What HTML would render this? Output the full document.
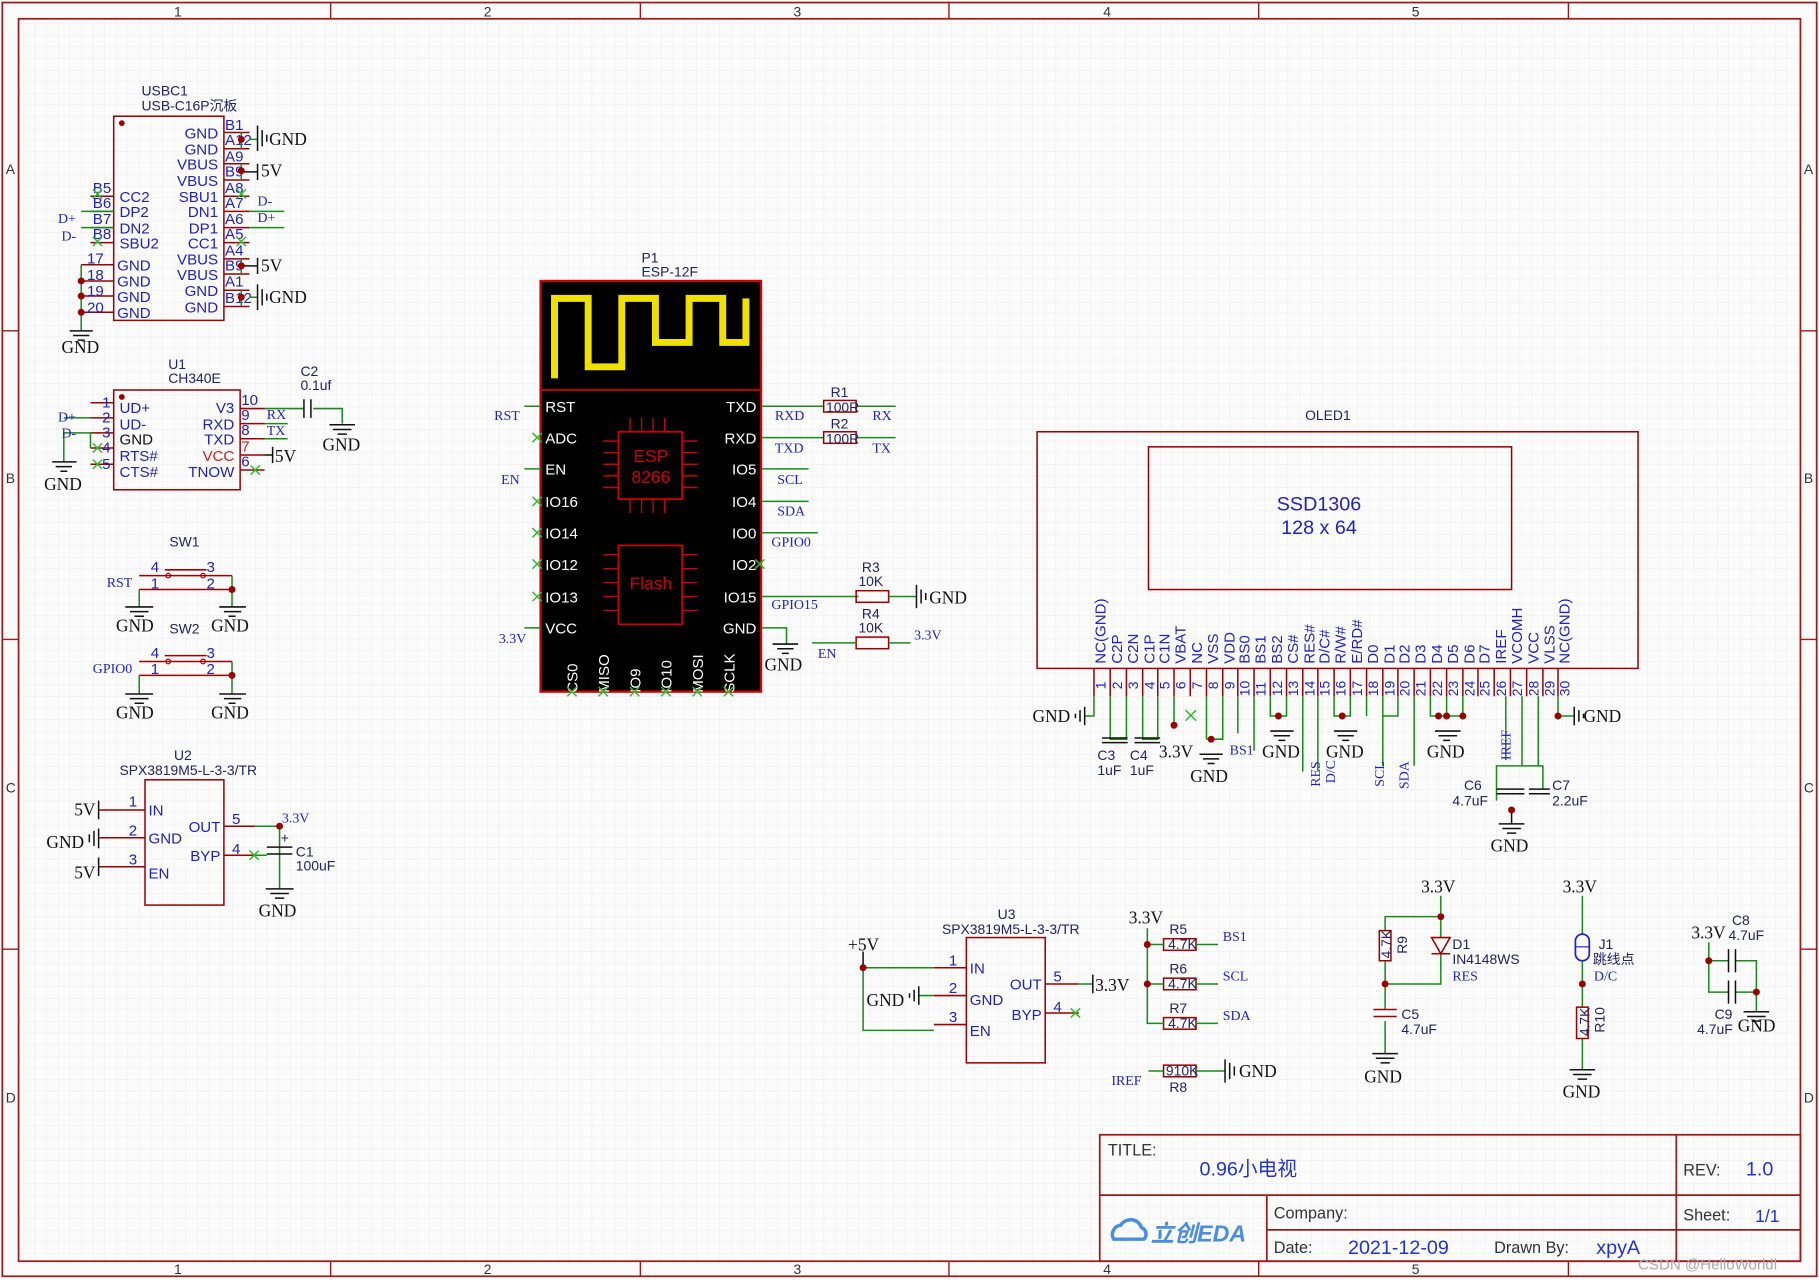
<!DOCTYPE html>
<html><head><meta charset="utf-8"><style>
html,body{margin:0;padding:0;background:#fff}
svg{display:block}
.c{font-family:"Liberation Sans","Noto Sans CJK SC",sans-serif;font-size:13px;fill:#2222bb}
.s{font-family:"Liberation Sans","Noto Sans CJK SC",sans-serif;font-size:12px;fill:#222266}
.n{font-family:"Liberation Serif","Noto Serif CJK SC",serif;font-size:12px;fill:#2222cc}
.g{font-family:"Liberation Serif",serif;font-size:15px;fill:#111}
.w{stroke:#1a8a1a;stroke-width:1.3;fill:none}
.p{stroke:#990000;stroke-width:1.3;fill:none}
.k{stroke:#111;stroke-width:1.3;fill:none}
.b{fill:#990000;stroke:none}
.r{stroke:#9a1b1b;fill:none}
.x{stroke:#33bb33;stroke-width:1.3}
</style></head><body>
<svg width="1819" height="1280" viewBox="0 0 1568 1103" xmlns="http://www.w3.org/2000/svg">
<defs>
<pattern id="gr" width="10" height="10" patternUnits="userSpaceOnUse"><path d="M10 0H0V10" stroke="#e6e6e6" stroke-width="0.6" fill="none"/></pattern>
</defs>
<rect width="1568" height="1103" fill="#fbfbfb"/>
<rect x="16" y="16" width="1536" height="1071" fill="url(#gr)"/>
<!-- frame -->
<rect x="2" y="2" width="1564" height="1098" class="r" stroke-width="1.5"/>
<rect x="16" y="16" width="1536" height="1071" class="r" stroke-width="1.5"/>
<g class="r" stroke-width="1.2">
<path d="M285 2V16M552 2V16M818 2V16M1085 2V16M1352 2V16M285 1087V1100M552 1087V1100M818 1087V1100M1085 1087V1100M1352 1087V1100"/>
<path d="M2 285H16M2 551H16M2 818H16M1552 285H1566M1552 551H1566M1552 818H1566"/>
</g>
<g class="s" fill="#333" font-size="13" style="fill:#333">
<text x="150" y="14">1</text><text x="417" y="14">2</text><text x="684" y="14">3</text><text x="951" y="14">4</text><text x="1217" y="14">5</text>
<text x="150" y="1098">1</text><text x="417" y="1098">2</text><text x="684" y="1098">3</text><text x="951" y="1098">4</text><text x="1217" y="1098">5</text>
<text x="5" y="150">A</text><text x="5" y="416">B</text><text x="5" y="683">C</text><text x="5" y="950">D</text>
<text x="1555" y="150">A</text><text x="1555" y="416">B</text><text x="1555" y="683">C</text><text x="1555" y="950">D</text>
</g>

<!-- USBC1 -->
<text class="s" x="122" y="82">USBC1</text><text class="s" x="122" y="95">USB-C16P沉板</text>
<rect x="98" y="100" width="95" height="176" class="p"/>
<circle cx="105" cy="106" r="2.5" class="b"/>
<g class="p">
<path d="M193 114H215M193 128H215M193 141H215M193 155H215M193 169H215M193 182H215M193 196H215M193 209H215M193 223H215M193 236H215M193 250H215M193 264H215"/>
<path d="M78 169H98M78 182H98M78 196H98M78 209H98M70 228H98M70 242H98M70 255H98M70 269H98"/>
</g>
<g class="c" text-anchor="end">
<text x="188" y="119">GND</text><text x="188" y="133">GND</text><text x="188" y="146">VBUS</text><text x="188" y="160">VBUS</text><text x="188" y="174">SBU1</text><text x="188" y="187">DN1</text><text x="188" y="201">DP1</text><text x="188" y="214">CC1</text><text x="188" y="228">VBUS</text><text x="188" y="241">VBUS</text><text x="188" y="255">GND</text><text x="188" y="269">GND</text>
</g>
<g class="c">
<text x="103" y="174">CC2</text><text x="103" y="187">DP2</text><text x="103" y="201">DN2</text><text x="103" y="214">SBU2</text><text x="101" y="233">GND</text><text x="101" y="247">GND</text><text x="101" y="260">GND</text><text x="101" y="274">GND</text>
<text x="194" y="112">B1</text><text x="194" y="125">A12</text><text x="194" y="139">A9</text><text x="194" y="152">B9</text><text x="194" y="166">A8</text><text x="194" y="179">A7</text><text x="194" y="193">A6</text><text x="194" y="206">A5</text><text x="194" y="220">A4</text><text x="194" y="233">B9</text><text x="194" y="247">A1</text><text x="194" y="261">B12</text>
<text x="80" y="166">B5</text><text x="80" y="179">B6</text><text x="80" y="193">B7</text><text x="80" y="206">B8</text><text x="75" y="227">17</text><text x="75" y="241">18</text><text x="75" y="255">19</text><text x="75" y="269">20</text>
</g>
<g class="w"><path d="M208 114V128M215 120H222M208 141V155M208 223V236M208 250V264M215 256H222M215 182H245M215 196H245M70 182H98M70 196H98M70 228V285"/></g>
<g class="k"><path d="M208 148H222M208 229H222M222 108V130M226 112V126M230 116V122M222 245V267M226 249V263M230 253V259M222 141V155M222 222V236M60 285H80M63 289H77M67 293H73"/></g>
<g class="b"><circle cx="208" cy="120" r="3"/><circle cx="208" cy="147" r="3"/><circle cx="208" cy="229" r="3"/><circle cx="208" cy="256" r="3"/><circle cx="70" cy="242" r="3"/><circle cx="70" cy="255" r="3"/><circle cx="70" cy="269" r="3"/></g>
<g class="x"><path d="M80 163l8 8m0-8l-8 8M80 204l8 8m0-8l-8 8M204 163l8 8m0-8l-8 8M204 204l8 8m0-8l-8 8"/></g>
<g class="g"><text x="232" y="125">GND</text><text x="225" y="152">5V</text><text x="225" y="234">5V</text><text x="232" y="261">GND</text><text x="53" y="304">GND</text></g>
<g class="n"><text x="222" y="177">D-</text><text x="222" y="191">D+</text><text x="50" y="192">D+</text><text x="53" y="207">D-</text></g>

<!-- U1 CH340E -->
<text class="s" x="145" y="318">U1</text><text class="s" x="145" y="330">CH340E</text>
<rect x="98" y="336" width="109" height="86" class="p"/>
<circle cx="105" cy="342" r="2.5" class="b"/>
<g class="p"><path d="M78 347H98M78 360H98M78 373H98M78 386H98M78 400H98M207 352H228M207 365H228M207 378H228M207 392H228M207 405H228"/></g>
<g class="c"><text x="103" y="356">UD+</text><text x="103" y="370">UD-</text><text x="103" y="383" style="fill:#111">GND</text><text x="103" y="397">RTS#</text><text x="103" y="411">CTS#</text>
<text x="88" y="351">1</text><text x="88" y="364">2</text><text x="88" y="377">3</text><text x="88" y="390">4</text><text x="88" y="404">5</text>
<text x="208" y="349">10</text><text x="208" y="362">9</text><text x="208" y="375">8</text><text x="208" y="389" style="fill:#cc2222">7</text><text x="208" y="402">6</text></g>
<g class="c" text-anchor="end"><text x="202" y="356">V3</text><text x="202" y="370">RXD</text><text x="202" y="383">TXD</text><text x="202" y="397" style="fill:#cc2222">VCC</text><text x="202" y="411">TNOW</text></g>
<g class="w"><path d="M228 352H262M270 352H295V365M228 365H248M228 378H248M55 360H78M55 373H78V386M55 373V398"/></g>
<g class="k"><path d="M262 344V360M268 344V360M228 392H235M235 385V399M284 366H306M287 370H303M291 374H299M45 398H66M48 402H62M52 406H58"/></g>
<g class="x"><path d="M80 382l8 8m0-8l-8 8M80 396l8 8m0-8l-8 8M216 401l8 8m0-8l-8 8"/></g>
<g class="n"><text x="230" y="361">RX</text><text x="230" y="375">TX</text><text x="50" y="363">D+</text><text x="53" y="377">D-</text></g>
<g class="s"><text x="259" y="324">C2</text><text x="259" y="336">0.1uf</text></g>
<g class="g"><text x="237" y="398">5V</text><text x="278" y="388">GND</text><text x="38" y="422">GND</text></g>

<!-- SW1 SW2 -->
<text class="s" x="146" y="471">SW1</text>
<g class="p"><path d="M120 496H200M120 508H200M142 491H178"/></g>
<circle cx="145" cy="496" r="2" fill="none" stroke="#990000"/><circle cx="175" cy="496" r="2" fill="none" stroke="#990000"/>
<g class="w"><path d="M120 508V523M200 496V523"/></g>
<g class="k"><path d="M108 523H132M112 527H128M116 531H124M189 523H212M193 527H208M197 531H203"/></g>
<circle cx="200" cy="508" r="3" class="b"/>
<g class="c"><text x="130" y="493">4</text><text x="178" y="493">3</text><text x="130" y="507">1</text><text x="178" y="507">2</text></g>
<text class="n" x="92" y="506">RST</text>
<g class="g"><text x="100" y="544">GND</text><text x="182" y="544">GND</text></g>
<text class="s" x="146" y="546">SW2</text>
<g class="p"><path d="M120 570H200M120 582H200M142 565H178"/></g>
<circle cx="145" cy="570" r="2" fill="none" stroke="#990000"/><circle cx="175" cy="570" r="2" fill="none" stroke="#990000"/>
<g class="w"><path d="M120 582V598M200 570V598"/></g>
<g class="k"><path d="M108 598H132M112 602H128M116 606H124M189 598H212M193 602H208M197 606H203"/></g>
<circle cx="200" cy="582" r="3" class="b"/>
<g class="c"><text x="130" y="567">4</text><text x="178" y="567">3</text><text x="130" y="581">1</text><text x="178" y="581">2</text></g>
<text class="n" x="80" y="580">GPIO0</text>
<g class="g"><text x="100" y="619">GND</text><text x="182" y="619">GND</text></g>

<!-- U2 -->
<text class="s" x="150" y="655">U2</text><text class="s" x="103" y="668">SPX3819M5-L-3-3/TR</text>
<rect x="125" y="672" width="68" height="108" class="p"/>
<g class="p"><path d="M85 698H125M85 722H125M85 747H125M193 712H220M193 737H220"/></g>
<g class="c"><text x="128" y="703">IN</text><text x="128" y="727">GND</text><text x="128" y="757">EN</text><text x="111" y="695">1</text><text x="111" y="720">2</text><text x="111" y="745">3</text><text x="200" y="710">5</text><text x="200" y="736">4</text></g>
<g class="c" text-anchor="end"><text x="190" y="717">OUT</text><text x="190" y="742">BYP</text></g>
<g class="w"><path d="M220 712H241V766M220 737H230"/></g>
<g class="k"><path d="M85 690V706M85 739V755M85 714V731M81 716V729M77 719V726M230 730H252M230 736H252M229 766H253M233 770H249M237 774H245"/></g>
<g class="x"><path d="M215 733l8 8m0-8l-8 8"/></g>
<circle cx="241" cy="712" r="3" class="b"/>
<g class="g"><text x="64" y="703">5V</text><text x="40" y="731">GND</text><text x="64" y="757">5V</text><text x="223" y="790">GND</text></g>
<text class="n" x="243" y="709">3.3V</text>
<g class="s"><text x="255" y="738">C1</text><text x="255" y="750">100uF</text><text x="242" y="726">+</text></g>

<!-- ESP P1 -->
<text class="s" x="553" y="226">P1</text><text class="s" x="553" y="238">ESP-12F</text>
<rect x="466" y="242" width="190" height="354" fill="#000" stroke="#cc0000" stroke-width="2"/>
<path d="M478 326V257H507V316H536V257H565V295H594V257H623V295H643V257" stroke="#f0e000" stroke-width="6" fill="none"/>
<path d="M466 336H656" stroke="#cc0000" stroke-width="1.5"/>
<g class="w"><path d="M452 350H466M452 404H466M452 541H466M656 350H710M656 377H710M656 404H697M656 432H697M656 459H705M656 514H740M656 541H678V555"/></g>
<g font-family="Liberation Sans,sans-serif" font-size="13" fill="#fff">
<text x="470" y="355">RST</text><text x="470" y="382">ADC</text><text x="470" y="409">EN</text><text x="470" y="437">IO16</text><text x="470" y="464">IO14</text><text x="470" y="491">IO12</text><text x="470" y="519">IO13</text><text x="470" y="546">VCC</text>
<g text-anchor="end"><text x="652" y="355">TXD</text><text x="652" y="382">RXD</text><text x="652" y="409">IO5</text><text x="652" y="437">IO4</text><text x="652" y="464">IO0</text><text x="652" y="491">IO2</text><text x="652" y="519">IO15</text><text x="652" y="546">GND</text></g>
<g><text transform="translate(498,597) rotate(-90)">CS0</text><text transform="translate(525,597) rotate(-90)">MISO</text><text transform="translate(552,597) rotate(-90)">IO9</text><text transform="translate(579,597) rotate(-90)">IO10</text><text transform="translate(606,597) rotate(-90)">MOSI</text><text transform="translate(633,597) rotate(-90)">SCLK</text></g>
</g>
<rect x="533" y="372" width="55" height="58" fill="none" stroke="#cc0000" stroke-width="1.5"/>
<g stroke="#cc0000" stroke-width="1.2"><path d="M520 380H533M520 390H533M520 400H533M520 410H533M520 420H533M588 380H601M588 390H601M588 400H601M588 410H601M588 420H601M543 360V372M553 360V372M563 360V372M573 360V372M543 430V442M553 430V442M563 430V442M573 430V442"/>
<path d="M520 478H533M520 490H533M520 502H533M520 514H533M520 526H533M588 478H601M588 490H601M588 502H601M588 514H601M588 526H601"/></g>
<rect x="533" y="470" width="55" height="68" fill="none" stroke="#cc0000" stroke-width="1.5"/>
<g font-family="Liberation Sans,sans-serif" font-size="15" fill="#cc0000" text-anchor="middle"><text x="561" y="398">ESP</text><text x="561" y="416">8266</text><text x="561" y="508">Flash</text></g>
<g class="x"><path d="M459 373l8 8m0-8l-8 8M459 428l8 8m0-8l-8 8M459 455l8 8m0-8l-8 8M459 482l8 8m0-8l-8 8M459 510l8 8m0-8l-8 8M651 482l8 8m0-8l-8 8M489 592l8 8m0-8l-8 8M516 592l8 8m0-8l-8 8M543 592l8 8m0-8l-8 8M570 592l8 8m0-8l-8 8M597 592l8 8m0-8l-8 8M624 592l8 8m0-8l-8 8"/></g>
<g class="n"><text x="426" y="362">RST</text><text x="432" y="417">EN</text><text x="430" y="554">3.3V</text><text x="668" y="362">RXD</text><text x="668" y="390">TXD</text><text x="670" y="417">SCL</text><text x="670" y="444">SDA</text><text x="665" y="471">GPIO0</text><text x="665" y="525">GPIO15</text><text x="752" y="362">RX</text><text x="752" y="390">TX</text><text x="705" y="567">EN</text><text x="788" y="551">3.3V</text></g>
<!-- R1 R2 -->
<g class="p"><rect x="710" y="345" width="28" height="10"/><rect x="710" y="372" width="28" height="10"/><rect x="738" y="509" width="28" height="10"/><rect x="738" y="549" width="28" height="10"/></g>
<g class="w"><path d="M738 350H772M738 377H772M766 514H790M700 554H738M766 554H785"/></g>
<g class="s"><text x="716" y="342">R1</text><text x="712" y="355">100R</text><text x="716" y="369">R2</text><text x="712" y="382">100R</text><text x="743" y="493">R3</text><text x="740" y="505">10K</text><text x="743" y="533">R4</text><text x="740" y="545">10K</text></g>
<g class="k"><path d="M790 504V524M794 508V520M798 511V517M666 555H688M670 559H684M674 563H680"/></g>
<g class="g"><text x="801" y="520">GND</text><text x="659" y="578">GND</text></g>

<!-- OLED -->
<text class="s" x="1125" y="362">OLED1</text>
<rect x="894" y="372" width="518" height="204" class="p" stroke-width="2"/>
<rect x="990" y="385" width="313" height="123" class="p"/>
<g font-family="Liberation Sans,sans-serif" font-size="17" fill="#2222bb" text-anchor="middle"><text x="1137" y="440">SSD1306</text><text x="1137" y="460">128 x 64</text></g>
<g class="p"><path d="M943 576V600M957 576V600M971 576V600M985 576V600M998 576V600M1012 576V600M1026 576V600M1040 576V600M1054 576V600M1067 576V600M1081 576V600M1095 576V600M1109 576V600M1123 576V600M1136 576V600M1150 576V600M1164 576V600M1178 576V600M1192 576V600M1205 576V600M1219 576V600M1233 576V600M1247 576V600M1261 576V600M1274 576V600M1288 576V600M1302 576V600M1316 576V600M1330 576V600M1343 576V600"/></g>
<g class="c" font-size="12">
<text transform="translate(953,572) rotate(-90)">NC(GND)</text><text transform="translate(967,572) rotate(-90)">C2P</text><text transform="translate(981,572) rotate(-90)">C2N</text><text transform="translate(995,572) rotate(-90)">C1P</text><text transform="translate(1008,572) rotate(-90)">C1N</text><text transform="translate(1022,572) rotate(-90)">VBAT</text><text transform="translate(1036,572) rotate(-90)">NC</text><text transform="translate(1050,572) rotate(-90)">VSS</text><text transform="translate(1064,572) rotate(-90)">VDD</text><text transform="translate(1077,572) rotate(-90)">BS0</text><text transform="translate(1091,572) rotate(-90)">BS1</text><text transform="translate(1105,572) rotate(-90)">BS2</text><text transform="translate(1119,572) rotate(-90)">CS#</text><text transform="translate(1133,572) rotate(-90)">RES#</text><text transform="translate(1146,572) rotate(-90)">D/C#</text><text transform="translate(1160,572) rotate(-90)">R/W#</text><text transform="translate(1174,572) rotate(-90)">E/RD#</text><text transform="translate(1188,572) rotate(-90)">D0</text><text transform="translate(1202,572) rotate(-90)">D1</text><text transform="translate(1215,572) rotate(-90)">D2</text><text transform="translate(1229,572) rotate(-90)">D3</text><text transform="translate(1243,572) rotate(-90)">D4</text><text transform="translate(1257,572) rotate(-90)">D5</text><text transform="translate(1271,572) rotate(-90)">D6</text><text transform="translate(1284,572) rotate(-90)">D7</text><text transform="translate(1298,572) rotate(-90)">IREF</text><text transform="translate(1312,572) rotate(-90)">VCOMH</text><text transform="translate(1326,572) rotate(-90)">VCC</text><text transform="translate(1340,572) rotate(-90)">VLSS</text><text transform="translate(1353,572) rotate(-90)">NC(GND)</text>
<g font-size="12"><text transform="translate(953,594) rotate(-90)">1</text><text transform="translate(967,594) rotate(-90)">2</text><text transform="translate(981,594) rotate(-90)">3</text><text transform="translate(995,594) rotate(-90)">4</text><text transform="translate(1008,594) rotate(-90)">5</text><text transform="translate(1022,594) rotate(-90)">6</text><text transform="translate(1036,594) rotate(-90)">7</text><text transform="translate(1050,594) rotate(-90)">8</text><text transform="translate(1064,594) rotate(-90)">9</text><text transform="translate(1077,600) rotate(-90)">10</text><text transform="translate(1091,600) rotate(-90)">11</text><text transform="translate(1105,600) rotate(-90)">12</text><text transform="translate(1119,600) rotate(-90)">13</text><text transform="translate(1133,600) rotate(-90)">14</text><text transform="translate(1146,600) rotate(-90)">15</text><text transform="translate(1160,600) rotate(-90)">16</text><text transform="translate(1174,600) rotate(-90)">17</text><text transform="translate(1188,600) rotate(-90)">18</text><text transform="translate(1202,600) rotate(-90)">19</text><text transform="translate(1215,600) rotate(-90)">20</text><text transform="translate(1229,600) rotate(-90)">21</text><text transform="translate(1243,600) rotate(-90)">22</text><text transform="translate(1257,600) rotate(-90)">23</text><text transform="translate(1271,600) rotate(-90)">24</text><text transform="translate(1284,600) rotate(-90)">25</text><text transform="translate(1298,600) rotate(-90)">26</text><text transform="translate(1312,600) rotate(-90)">27</text><text transform="translate(1326,600) rotate(-90)">28</text><text transform="translate(1340,600) rotate(-90)">29</text><text transform="translate(1353,600) rotate(-90)">30</text></g>
</g>
<g class="w"><path d="M943 600V617H935M957 600V637H971V600M985 600V637H998V600M1012 600V625M1040 600V637M1054 600V637H1040M1067 600V632M1081 600V647M1095 600V617H1109V600M1123 600V665M1136 600V665M1150 600V617H1164V600M1178 600V617M1192 600V660M1205 600V617H1192M1219 600V660M1233 600V617H1261V600M1247 600V617M1298 600V655M1312 600V660H1330V680M1326 600V660H1290V690M1343 600V617H1357"/></g>
<g class="k"><path d="M950 636H972M950 640H972M978 636H1000M978 640H1000M1034 650H1054M1037 654H1051M1041 658H1047M1095 630H1115M1098 634H1112M1102 638H1108M1150 630H1170M1153 634H1167M1157 638H1163M1237 630H1259M1240 634H1256M1244 638H1250M935 609V625M931 612V622M927 615V619M1357 609V625M1361 612V622M1365 615V619M1290 680H1314M1290 684H1314M1318 680H1336M1318 684H1336M1292 710H1314M1295 714H1311M1299 718H1307M1303 698V710"/></g>
<g class="b"><circle cx="1012" cy="625" r="3"/><circle cx="1044" cy="637" r="3"/><circle cx="1102" cy="617" r="3"/><circle cx="1157" cy="617" r="3"/><circle cx="1240" cy="617" r="3"/><circle cx="1247" cy="617" r="3"/><circle cx="1261" cy="617" r="3"/><circle cx="1343" cy="617" r="3"/><circle cx="1303" cy="698" r="3"/></g>
<g class="x"><path d="M1022 612l9 9m0-9l-9 9"/></g>
<g class="g"><text x="890" y="622">GND</text><text x="1365" y="622">GND</text><text x="999" y="653">3.3V</text><text x="1026" y="674">GND</text><text x="1088" y="653">GND</text><text x="1143" y="653">GND</text><text x="1230" y="653">GND</text><text x="1285" y="734">GND</text></g>
<g class="s"><text x="946" y="655">C3</text><text x="946" y="668">1uF</text><text x="974" y="655">C4</text><text x="974" y="668">1uF</text><text x="1262" y="681">C6</text><text x="1252" y="694">4.7uF</text><text x="1338" y="681">C7</text><text x="1338" y="694">2.2uF</text></g>
<g class="n"><text x="1060" y="650">BS1</text><text transform="translate(1138,678) rotate(-90)">RES</text><text transform="translate(1151,675) rotate(-90)">D/C</text><text transform="translate(1193,678) rotate(-90)">SCL</text><text transform="translate(1214,680) rotate(-90)">SDA</text><text transform="translate(1302,655) rotate(-90)">IREF</text></g>

<!-- U3 -->
<text class="s" x="860" y="792">U3</text><text class="s" x="812" y="805">SPX3819M5-L-3-3/TR</text>
<rect x="833" y="808" width="68" height="108" class="p"/>
<g class="p"><path d="M805 834H833M805 858H833M805 883H833M901 848H930M901 873H930"/></g>
<g class="c"><text x="836" y="839">IN</text><text x="836" y="866">GND</text><text x="836" y="893">EN</text><text x="818" y="832">1</text><text x="818" y="856">2</text><text x="818" y="881">3</text><text x="908" y="846">5</text><text x="908" y="872">4</text></g>
<g class="c" text-anchor="end"><text x="898" y="853">OUT</text><text x="898" y="879">BYP</text></g>
<g class="w"><path d="M744 834H805M744 834V888H805M792 858H805M930 848H942"/></g>
<g class="k"><path d="M744 820V834M792 850V866M788 853V863M784 856V860M942 840V856"/></g>
<circle cx="744" cy="834" r="3" class="b"/>
<g class="x"><path d="M923 869l8 8m0-8l-8 8"/></g>
<g class="g"><text x="731" y="819">+5V</text><text x="747" y="867">GND</text><text x="944" y="854">3.3V</text></g>

<!-- R5-R8 -->
<g class="g"><text x="973" y="796">3.3V</text><text x="1068" y="928">GND</text></g>
<g class="p"><rect x="1003" y="809" width="28" height="10"/><rect x="1003" y="843" width="28" height="10"/><rect x="1003" y="877" width="28" height="10"/><rect x="1003" y="918" width="28" height="10"/></g>
<g class="w"><path d="M989 800V882H1003M989 814H1003M989 848H1003M1031 814H1050M1031 848H1050M1031 882H1050M990 923H1003M1031 923H1056"/></g>
<g class="k"><path d="M989 800H989M1056 913V933M1060 916V930M1064 919V927"/></g>
<g class="b"><circle cx="989" cy="814" r="3"/><circle cx="989" cy="848" r="3"/></g>
<g class="s"><text x="1008" y="805">R5</text><text x="1007" y="818">4.7K</text><text x="1008" y="839">R6</text><text x="1007" y="852">4.7K</text><text x="1008" y="873">R7</text><text x="1007" y="886">4.7K</text><text x="1005" y="927">910K</text><text x="1008" y="941">R8</text></g>
<g class="n"><text x="1054" y="811">BS1</text><text x="1054" y="845">SCL</text><text x="1054" y="879">SDA</text><text x="958" y="935">IREF</text></g>

<!-- R9 D1 C5 -->
<g class="g"><text x="1225" y="769">3.3V</text><text x="1176" y="933">GND</text><text x="1347" y="769">3.3V</text><text x="1347" y="946">GND</text><text x="1458" y="809">3.3V</text><text x="1498" y="889">GND</text></g>
<g class="w"><path d="M1242 772V790H1194V802M1242 790V808M1194 828V870M1194 848H1242V822M1194 880V908"/></g>
<g class="p"><rect x="1189" y="802" width="10" height="26"/><path d="M1234 808H1250L1242 822ZM1234 822H1250M1184 870H1204M1184 876H1204"/></g>
<g class="k"><path d="M1183 908H1205M1186 912H1202M1190 916H1198"/></g>
<g class="b"><circle cx="1242" cy="790" r="3"/><circle cx="1194" cy="848" r="3"/></g>
<g class="s"><text transform="translate(1199,826) rotate(-90)">4.7K</text><text transform="translate(1213,822) rotate(-90)">R9</text><text x="1252" y="818">D1</text><text x="1252" y="831">IN4148WS</text><text x="1208" y="878">C5</text><text x="1208" y="891">4.7uF</text></g>
<text class="n" x="1252" y="845">RES</text>
<!-- J1 R10 -->
<g class="w"><path d="M1364 772V805M1364 828V868M1364 895V922"/></g>
<rect x="1358" y="805" width="12" height="23" rx="6" fill="none" stroke="#2222cc" stroke-width="1.5"/>
<path d="M1358 816H1370" stroke="#2222cc"/>
<g class="p"><rect x="1359" y="868" width="10" height="27"/></g>
<circle cx="1364" cy="848" r="3" class="b"/>
<g class="k"><path d="M1353 922H1375M1356 926H1372M1360 930H1368"/></g>
<g class="s"><text x="1378" y="818">J1</text><text x="1373" y="831">跳线点</text><text transform="translate(1370,893) rotate(-90)">4.7K</text><text transform="translate(1383,890) rotate(-90)">R10</text></g>
<text class="n" x="1374" y="845">D/C</text>
<!-- C8 C9 -->
<g class="w"><path d="M1473 812V855H1490M1473 828H1490M1496 828H1514V872M1496 855H1514"/></g>
<g class="k"><path d="M1490 818V838M1496 818V838M1490 845V865M1496 845V865M1503 872H1525M1506 876H1522M1510 880H1518"/></g>
<g class="b"><circle cx="1473" cy="828" r="3"/><circle cx="1514" cy="855" r="3"/></g>
<g class="s"><text x="1493" y="797">C8</text><text x="1490" y="810">4.7uF</text><text x="1478" y="878">C9</text><text x="1463" y="891">4.7uF</text></g>

<!-- title block -->
<g class="r" stroke-width="1.5"><rect x="948" y="978" width="604" height="109"/><path d="M948 1030H1552M1092 1030V1087M1092 1060H1552M1445 978V1087"/></g>
<g font-family="Liberation Sans,'Noto Sans CJK SC',sans-serif" font-size="14" fill="#333">
<text x="955" y="996">TITLE:</text><text x="1098" y="1050">Company:</text><text x="1098" y="1080">Date:</text><text x="1288" y="1080">Drawn By:</text><text x="1451" y="1013">REV:</text><text x="1451" y="1052">Sheet:</text>
</g>
<g font-family="Liberation Sans,'Noto Sans CJK SC',sans-serif" font-size="17" fill="#2233cc">
<text x="1034" y="1013">0.96小电视</text><text x="1505" y="1013">1.0</text><text x="1513" y="1053" font-size="15">1/1</text><text x="1162" y="1081">2021-12-09</text><text x="1376" y="1081">xpyA</text>
</g>
<g><path d="M960 1068a8 8 0 0 1 6-12a10 10 0 0 1 18 2a6 6 0 0 1 2 10Z" fill="none" stroke="#4a8ee0" stroke-width="3"/>
<text x="992" y="1070" font-family="Liberation Sans,'Noto Sans CJK SC',sans-serif" font-size="20" font-weight="bold" font-style="italic" fill="#4a8ee0">立创EDA</text></g>
<text x="1412" y="1094" font-family="Liberation Sans,sans-serif" font-size="13" fill="#aaa">CSDN @HelloWorldl</text>
</svg>
</body></html>
